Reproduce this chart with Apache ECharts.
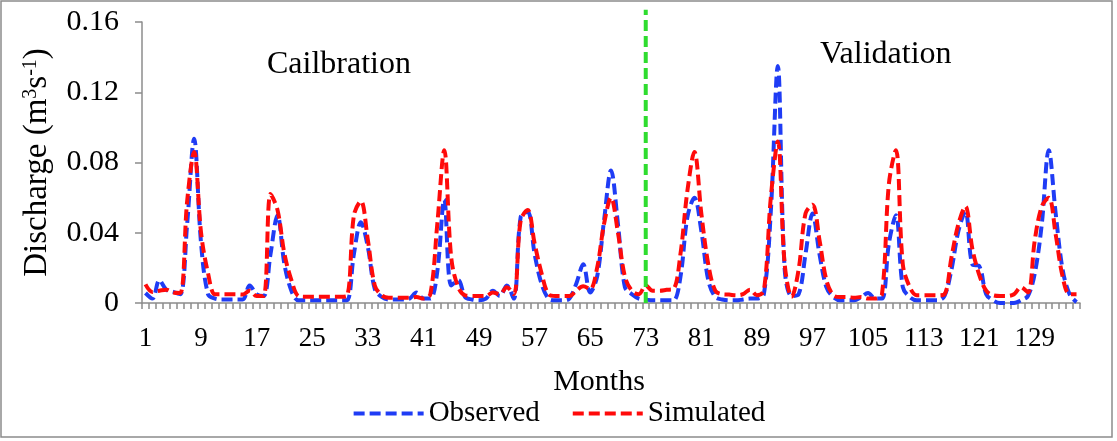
<!DOCTYPE html>
<html>
<head>
<meta charset="utf-8">
<script src="https://cdn.jsdelivr.net/npm/echarts@6/dist/echarts.min.js"></script>
<style>
html,body{margin:0;padding:0;background:#fff;}
#chart{width:1117px;height:441px;}
</style>
</head>
<body>
<div id="chart"></div>
<script>
// ---- data ----
var months = [];
for (var m = 1; m <= 135; m++) months.push(String(m));

var observed = [
0.0057,0.0025,0.013,0.0076,0.0063,0.005,0.045,0.0935,0.034,0.005,
0.0025,0.002,0.002,0.002,0.002,0.010,0.005,0.004,0.028,0.05,
0.022,0.007,0.0015,0.0015,0.0015,0.0015,0.0015,0.0015,0.0015,0.0015,
0.028,0.046,0.032,0.008,0.0034,0.002,0.002,0.002,0.0025,0.006,
0.0025,0.0025,0.018,0.059,0.010,0.013,0.0034,0.002,0.0015,0.0025,
0.007,0.004,0.010,0.0025,0.049,0.052,0.028,0.011,0.0025,0.0015,
0.0015,0.0025,0.011,0.022,0.006,0.015,0.047,0.0755,0.045,0.009,
0.005,0.0025,0.002,0.0015,0.0015,0.0015,0.0015,0.015,0.049,0.06,
0.041,0.013,0.0035,0.002,0.0015,0.0015,0.002,0.0025,0.0025,0.005,
0.052,0.135,0.019,0.004,0.005,0.028,0.051,0.028,0.009,0.0034,
0.0015,0.0015,0.0015,0.0034,0.0057,0.0025,0.0025,0.034,0.05,0.009,
0.0034,0.0015,0.0015,0.0015,0.0015,0.004,0.019,0.041,0.052,0.022,
0.021,0.005,0.0015,0.0,0.0,0.0,0.0015,0.004,0.017,0.045,
0.087,0.051,0.019,0.005,0.0005
];

var simulated = [
0.0106,0.0063,0.007,0.0076,0.006,0.0057,0.058,0.086,0.04,0.017,
0.005,0.005,0.005,0.005,0.0048,0.007,0.004,0.004,0.062,0.053,
0.028,0.013,0.004,0.0035,0.0035,0.0035,0.0035,0.0035,0.0035,0.004,
0.05,0.058,0.036,0.01,0.0044,0.003,0.003,0.003,0.003,0.0034,
0.0025,0.005,0.045,0.087,0.026,0.009,0.0044,0.004,0.004,0.004,
0.006,0.005,0.009,0.005,0.047,0.053,0.034,0.017,0.005,0.004,
0.004,0.004,0.007,0.0095,0.008,0.02,0.045,0.06,0.04,0.015,
0.007,0.005,0.010,0.007,0.007,0.0075,0.008,0.028,0.064,0.086,
0.051,0.022,0.007,0.005,0.0048,0.0044,0.005,0.0076,0.0044,0.007,
0.06,0.092,0.022,0.0035,0.019,0.051,0.056,0.036,0.013,0.0044,
0.0034,0.0034,0.003,0.0034,0.0025,0.0025,0.005,0.068,0.087,0.022,
0.009,0.0044,0.0044,0.0044,0.0044,0.005,0.026,0.045,0.055,0.031,
0.016,0.007,0.0044,0.004,0.004,0.005,0.009,0.006,0.036,0.055,
0.06,0.039,0.015,0.005,0.005
];

var dividerMonth = 73;          // calibration / validation split
var dividerValues = [0, 0.167]; // vertical divider extent (bottom, top)

var yTicks = { min: 0, max: 0.16, interval: 0.04 };

// ---- chart ----
var FONT = '"Liberation Serif","Times New Roman",serif';
var chart = echarts.init(document.getElementById('chart'), null, {renderer: 'canvas'});

var DASH = [11, 5];
var option = {
  animation: false,
  backgroundColor: '#ffffff',
  textStyle: { fontFamily: FONT, color: '#000' },
  grid: { left: 142, right: 37, top: 22, bottom: 138, containLabel: false },
  legend: {
    data: ['Observed', 'Simulated'],
    bottom: 8,
    left: 'center',
    itemWidth: 70,
    itemHeight: 14,
    itemGap: 31,
    itemStyle: { opacity: 0 },
    lineStyle: { width: 4, type: DASH },
    textStyle: { fontFamily: FONT, fontSize: 29, color: '#000' }
  },
  xAxis: [{
    type: 'category',
    data: months,
    boundaryGap: true,
    name: 'Months',
    nameLocation: 'middle',
    nameGap: 64,
    nameTextStyle: { fontFamily: FONT, fontSize: 30, color: '#000', padding: [0, 24, 0, 0] },
    axisLine: { lineStyle: { color: '#8c8c8c', width: 1.5 } },
    axisTick: { show: true, interval: 0, length: 6, lineStyle: { color: '#8c8c8c', width: 1.5 } },
    axisLabel: { interval: 7, margin: 22, fontFamily: FONT, fontSize: 27, color: '#000' },
    splitLine: { show: false }
  }, {
    type: 'value',
    min: 0.5,
    max: 135.5,
    show: false
  }],
  yAxis: {
    type: 'value',
    min: yTicks.min,
    max: yTicks.max,
    interval: yTicks.interval,
    name: 'Discharge (m{sup|3}s{sup|-1})',
    nameLocation: 'middle',
    nameRotate: 90,
    nameGap: 88,
    nameTextStyle: {
      fontFamily: FONT, fontSize: 33, color: '#000',
      rich: { sup: { fontFamily: FONT, fontSize: 20, color: '#000', verticalAlign: 'top', padding: [0, 0, 11, 0] } }
    },
    axisLine: { show: true, lineStyle: { color: '#8c8c8c', width: 1.5 } },
    axisTick: { show: true, length: 7, lineStyle: { color: '#8c8c8c', width: 1.5 } },
    axisLabel: { margin: 23, fontFamily: FONT, fontSize: 30, color: '#000',
      formatter: function (v) { return v === 0 ? '0' : v.toFixed(2); } },
    splitLine: { show: false }
  },
  series: [{
    name: 'Observed',
    type: 'line',
    data: observed,
    smooth: 0.35,
    symbol: 'none',
    color: '#1f3cf5',
    lineStyle: { color: '#1f3cf5', width: 4, type: DASH },
    z: 3
  }, {
    name: 'Simulated',
    type: 'line',
    data: simulated,
    smooth: 0.35,
    symbol: 'none',
    color: '#ff0a0a',
    lineStyle: { color: '#ff0a0a', width: 4, type: DASH },
    z: 4
  }, {
    name: 'Split',
    type: 'line',
    xAxisIndex: 1,
    data: dividerValues.map(function (v) { return [dividerMonth, v]; }),
    symbol: 'none',
    clip: false,
    lineStyle: { color: '#2fdc2f', width: 4, type: DASH },
    z: 5
  }],
  graphic: [{
    type: 'rect',
    shape: { x: 1, y: 1, width: 1111, height: 436 },
    style: { fill: 'none', stroke: '#8c8c8c', lineWidth: 1.5 },
    silent: true, z: -1
  }, {
    type: 'text',
    left: 267, top: 49,
    style: { text: 'Cailbration', font: '32px ' + FONT, fill: '#000' }
  }, {
    type: 'text',
    left: 820, top: 39,
    style: { text: 'Validation', font: '32px ' + FONT, fill: '#000' }
  }]
};
chart.setOption(option);
</script>
</body>
</html>
